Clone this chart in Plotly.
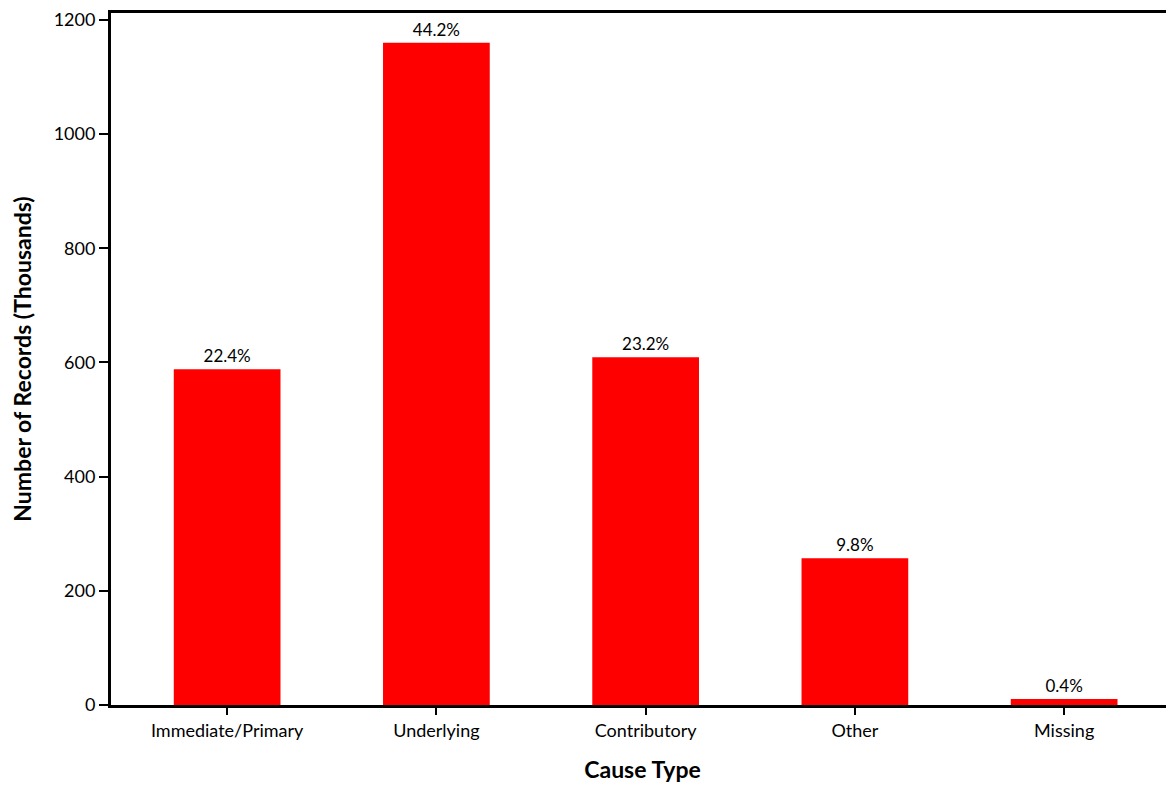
import plotly.graph_objects as go

categories = ["Immediate/Primary", "Underlying", "Contributory", "Other", "Missing"]
values = [588, 1160, 609, 257, 10.5]
pct_labels = ["22.4%", "44.2%", "23.2%", "9.8%", "0.4%"]
y_ticks = [0, 200, 400, 600, 800, 1000, 1200]

font_family = "Lato, 'Open Sans', sans-serif"

fig = go.Figure(go.Bar(
    x=list(range(len(categories))),
    y=values,
    text=pct_labels,
    textposition="outside",
    textfont=dict(size=17, color="black", family=font_family),
    marker=dict(color="#ff0000", line=dict(width=0)),
    width=0.51,
    cliponaxis=False,
))

fig.update_layout(
    width=1166, height=775,
    margin=dict(l=103, r=0, t=2, b=78),
    plot_bgcolor="white", paper_bgcolor="white",
    font=dict(family=font_family, color="black", size=18),
    showlegend=False,
    xaxis=dict(
        range=[-0.555, 4.525],
        tickmode="array",
        tickvals=list(range(len(categories))),
        ticktext=categories,
        showline=True, linecolor="black", linewidth=3, mirror=True,
        ticks="outside", ticklen=7, tickwidth=2, tickcolor="black",
        showgrid=False, zeroline=False,
        tickfont=dict(size=18),
        ticklabeloverflow="allow",
        title=dict(text="<b>Cause Type</b>", font=dict(size=23), standoff=24),
    ),
    yaxis=dict(
        range=[0, 1212],
        tickmode="array", tickvals=y_ticks,
        showline=True, linecolor="black", linewidth=3, mirror=False,
        ticks="outside", ticklen=9, tickwidth=2, tickcolor="black",
        showgrid=False, zeroline=False,
        tickfont=dict(size=18),
        ticklabeloverflow="allow",
        title=dict(text="<b>Number of Records (Thousands)</b>", font=dict(size=23), standoff=20),
    ),
)

fig.write_html("out.html")
